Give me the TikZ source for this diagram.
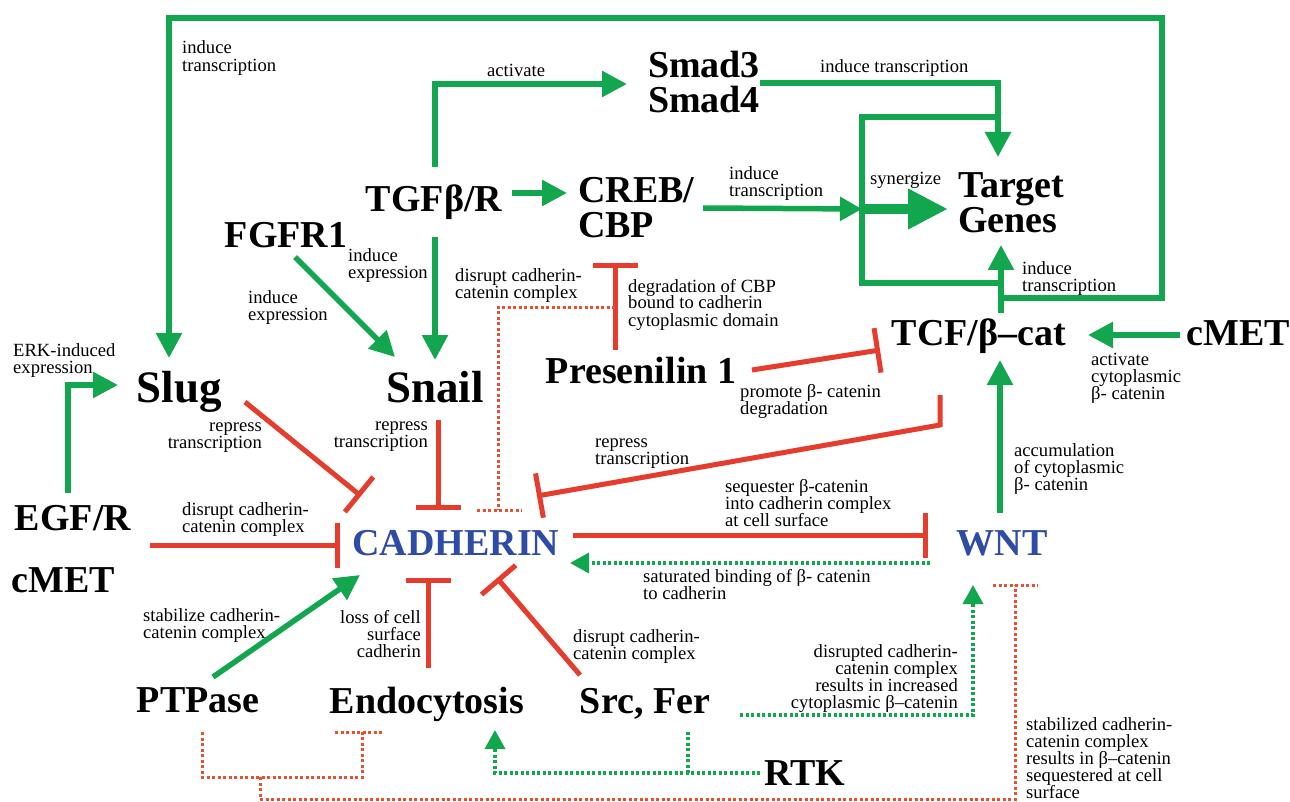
\documentclass[tikz,border=0pt]{standalone}
\usepackage{fontspec}
\setmainfont{Liberation Serif}
\usetikzlibrary{arrows.meta,calc}
\definecolor{gr}{RGB}{18,166,78}
\definecolor{rd}{RGB}{230,60,46}
\definecolor{rdd}{RGB}{232,80,50}
\definecolor{bl}{RGB}{46,75,165}
\newcommand{\stkL}[2]{\vtop{\baselineskip=#1\lineskiplimit=-50pt\relax\halign{##\hfil\cr#2\crcr}}}
\newcommand{\stkR}[2]{\vtop{\baselineskip=#1\lineskiplimit=-50pt\relax\halign{\hfil##\cr#2\crcr}}}
\newcommand{\stkC}[2]{\vtop{\baselineskip=#1\lineskiplimit=-50pt\relax\halign{\hfil##\hfil\cr#2\crcr}}}
\begin{document}
\begin{tikzpicture}[x=1pt,y=-1pt,
 big/.style={font=\fontsize{38}{35}\selectfont\bfseries, inner sep=0pt, anchor=base},
 huge/.style={font=\fontsize{45}{40}\selectfont\bfseries, inner sep=0pt, anchor=base},
 lab/.style={font=\fontsize{18.6}{17}\selectfont, inner sep=0pt, anchor=base west},
 labr/.style={lab, anchor=base east},
 act/.style={draw=gr, line width=5.5pt, -{Triangle[length=25pt,width=25pt]}},
 gline/.style={draw=gr, line width=5.5pt},
 inh/.style={draw=rd, line width=5pt, -{Bar[width=45pt]}},
 gdot/.style={draw=gr, line width=3.5pt, dash pattern=on 3pt off 2.5pt, -{Triangle[length=19pt,width=20pt]}},
 gdotl/.style={draw=gr, line width=3.5pt, dash pattern=on 3pt off 2.5pt},
 rdot/.style={draw=rdd, line width=3pt, dash pattern=on 3pt off 2.5pt},
]
\useasboundingbox[fill=white] (0,0) rectangle (1290,802);

% main nodes
\node[big] (smad) at (704,78) {\stkC{35pt}{Smad3\cr Smad4}};
\node[big] (tgf) at (434,212) {TGFβ/R};
\node[big,anchor=base west] (creb) at (578,203) {\stkL{35pt}{CREB/\cr CBP}};
\node[big,anchor=base west] (target) at (958,198) {\stkL{35pt}{Target\cr Genes}};
\node[big] (fgfr) at (286,248) {FGFR1};
\node[huge] (slug) at (179,402) {Slug};
\node[huge] (snail) at (435,402) {Snail};
\node[big] (pres) at (641,383) {Presenilin 1};
\node[big] (tcf) at (979,345) {TCF/β–cat};
\node[big] (cmetr) at (1238,345) {cMET};
\node[big] (egf) at (73,530) {EGF/R};
\node[big,text=bl] (cad) at (456,555) {CADHERIN};
\node[big,text=bl] (wnt) at (1002,555) {WNT};
\node[big] (cmetl) at (63,592) {cMET};
\node[big] (ptp) at (198,712) {PTPase};
\node[big] (endo) at (427,713) {Endocytosis};
\node[big] (src) at (645,713) {Src, Fer};
\node[big] (rtk) at (805,785) {RTK};

% labels
\node[lab] (l1) at (182,54) {\stkL{18pt}{induce\cr transcription}};
\node[lab] (l2) at (487,77) {activate};
\node[lab] (l3) at (820,73) {induce transcription};
\node[lab] (l4) at (729,180) {\stkL{17pt}{induce\cr transcription}};
\node[lab] (l5) at (870,185) {synergize};
\node[lab] (l6) at (1022,275) {\stkL{17pt}{induce\cr transcription}};
\node[lab] (l7) at (348,262) {\stkL{17pt}{induce\cr expression}};
\node[lab] (l8) at (248,304) {\stkL{17pt}{induce\cr expression}};
\node[lab] (l9) at (455,282) {\stkL{17pt}{disrupt cadherin-\cr catenin complex}};
\node[lab] (l10) at (628,292) {\stkL{17pt}{degradation of CBP\cr bound to cadherin\cr cytoplasmic domain}};
\node[lab] (l11) at (13,356) {\stkL{17pt}{ERK-induced\cr expression}};
\node[labr] (l12) at (262,431) {\stkR{17pt}{repress\cr transcription}};
\node[labr] (l13) at (428,430) {\stkR{17pt}{repress\cr transcription}};
\node[lab] (l14) at (740,397) {\stkL{17pt}{promote β- catenin\cr degradation}};
\node[lab] (l15) at (1091,365) {\stkL{17pt}{activate\cr cytoplasmic\cr β- catenin}};
\node[lab] (l16) at (595,447) {\stkL{17pt}{repress\cr transcription}};
\node[lab] (l17) at (725,492) {\stkL{17pt}{sequester β-catenin\cr into cadherin complex\cr at cell surface}};
\node[lab] (l18) at (1014,456) {\stkL{17pt}{accumulation\cr of cytoplasmic\cr β- catenin}};
\node[lab] (l19) at (182,515) {\stkL{17pt}{disrupt cadherin-\cr catenin complex}};
\node[lab] (l20) at (643,582) {\stkL{17pt}{saturated binding of β- catenin\cr to cadherin}};
\node[lab] (l21) at (143,621) {\stkL{17pt}{stabilize cadherin-\cr catenin complex}};
\node[labr] (l22) at (421,623) {\stkR{17pt}{loss of cell\cr surface\cr cadherin}};
\node[lab] (l23) at (573,642) {\stkL{17pt}{disrupt cadherin-\cr catenin complex}};
\node[labr] (l24) at (958,657) {\stkR{17pt}{disrupted cadherin-\cr catenin complex\cr results in increased\cr cytoplasmic β–catenin}};
\node[lab] (l25) at (1026,730) {\stkL{17pt}{stabilized cadherin-\cr catenin complex\cr results in β–catenin\cr sequestered at cell\cr surface}};

% junction coordinates
\coordinate (tcfj) at (1001,298);
\coordinate (synj) at (862,209);
\coordinate (presj) at (615,307);
\coordinate (rtkj) at (688,773);
\coordinate (ptpj) at (260,777);

% green activations
\draw[act] ($(tcf.base)+(22,-32)$) -- ($(target.base west)+(43,47)$);
\draw[act] (tcfj) -- (1162,298) -- (1162,18) -- (169,18) -- ($(slug.base)+(-10,-44)$);
\draw[act] ($(smad.base)+(56,5)$) -- (998,83) -- ($(target.base west)+(40,-41)$);
\draw[gline] (1001,283) -- (862,283) -- (862,117) -- (998,117);
\draw[act,-{Triangle[length=22pt,width=23pt]}] ($(creb.base west)+(125,5)$) -- (synj);
\draw[gline,line width=10pt,-{Triangle[length=40pt,width=38pt]}] (synj) -- ($(target.base west)+(-10,11)$);
\draw[act] ($(tgf.base)+(1,-45)$) -- (435,84) -- ($(smad.base)+(-77,6)$);
\draw[act] ($(tgf.base)+(78,-19)$) -- ($(creb.base west)+(-11,-10)$);
\draw[act] ($(tgf.base)+(1,25)$) -- ($(snail.base)+(0,-42)$);
\draw[act] ($(fgfr.base)+(9,9)$) -- ($(snail.base)+(-40,-45)$);
\draw[act] ($(egf.base)+(-5,-37)$) -- (68,385) -- ($(slug.base)+(-61,-17)$);
\draw[act] ($(ptp.base)+(15,-35)$) -- ($(cad.base)+(-96,20)$);
\draw[act] ($(cmetr.base)+(-58,-10)$) -- ($(tcf.base)+(109,-10)$);
\draw[act] ($(wnt.base)+(-2,-42)$) -- ($(tcf.base)+(21,15)$);

% red inhibitions
\draw[inh] ($(slug.base)+(66,0)$) -- ($(cad.base)+(-95,-59)$);
\draw[inh] ($(snail.base)+(3,18)$) -- ($(cad.base)+(-18,-45)$);
\draw[inh] ($(egf.base)+(77,15)$) -- ($(cad.base)+(-116,-10)$);
\draw[inh] ($(tcf.base)+(-39,50)$) -- (940,425) -- ($(cad.base)+(81,-59)$);
\draw[inh] ($(pres.base)+(111,-13)$) -- ($(tcf.base)+(-99,5)$);
\draw[inh] ($(pres.base)+(-26,-33)$) -- ($(creb.base west)+(37,60)$);
\draw[inh] ($(cad.base)+(117,-20)$) -- ($(wnt.base)+(-74,-20)$);
\draw[inh] ($(endo.base)+(1,-45)$) -- ($(cad.base)+(-28,23)$);
\draw[inh] ($(src.base)+(-65,-38)$) -- ($(cad.base)+(41,23)$);

% dotted
\draw[rdot] (presj) -- (498,307) -- (498,510);
\draw[rdot] ($(cad.base)+(21,-45)$) -- ($(cad.base)+(66,-45)$);
\draw[gdot] ($(wnt.base)+(-72,8)$) -- ($(cad.base)+(114,8)$);
\draw[gdot] ($(src.base)+(95,2)$) -- (973,715) -- ($(wnt.base)+(-29,30)$);
\draw[gdot] ($(rtk.base)+(-45,-12)$) -- (495,773) -- ($(endo.base)+(68,17)$);
\draw[gdotl] (rtkj) -- ($(src.base)+(43,19)$);
\draw[rdot] ($(ptp.base)+(4,20)$) -- (202,777) -- (362,777) -- (362,732);
\draw[rdot] ($(endo.base)+(-92,19)$) -- ($(endo.base)+(-44,19)$);
\draw[rdot] (ptpj) -- (260,799) -- (1015,799) -- (1015,585);
\draw[rdot] ($(wnt.base)+(-9,30)$) -- ($(wnt.base)+(36,30)$);
\end{tikzpicture}
\end{document}
